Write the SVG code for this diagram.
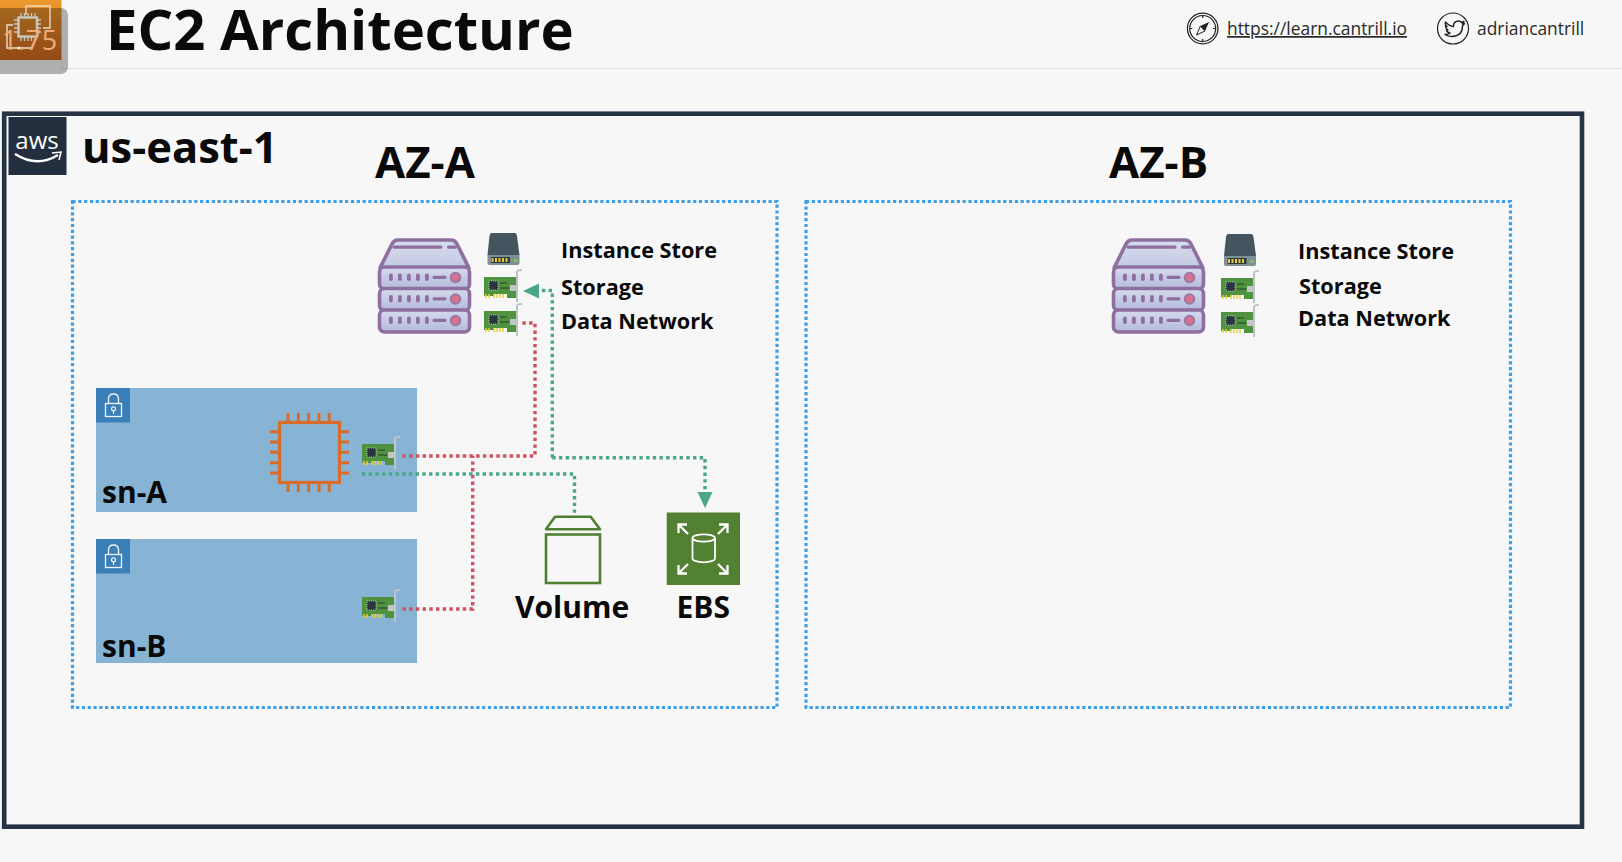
<svg xmlns="http://www.w3.org/2000/svg" xmlns:xlink="http://www.w3.org/1999/xlink" width="1622" height="862" viewBox="0 0 1622 862">
<style>
text{font-family:"Open Sans","Noto Sans","Liberation Sans",sans-serif;fill:#0a0a0a}
.b{font-weight:700}
.lab{font-weight:700;font-size:21.7px}
.big{font-weight:700;font-size:30px}
.az{font-weight:700;font-size:43.8px}
.top{font-size:17.4px;fill:#2a2a2a}
.zone{fill:none;stroke:#3d9fe8;stroke-width:3.2;stroke-dasharray:3.2 2.6}
.subnet{fill:#87b4d5}
.red{fill:none;stroke:#d0505f;stroke-width:3.4;stroke-dasharray:3.4 3.3}
.grn{fill:none;stroke:#4aa888;stroke-width:3.4;stroke-dasharray:3.4 3.3}
.ar{fill:#4aa888}
.thin{fill:none;stroke:#222;stroke-width:1.2}
</style>
<defs>
<linearGradient id="tg" x1="0" y1="0" x2="0" y2="1"><stop offset="0" stop-color="#d6daee"/><stop offset="1" stop-color="#b3bbda"/></linearGradient>
<linearGradient id="rg" x1="0" y1="0" x2="0" y2="1"><stop offset="0" stop-color="#d8dcee"/><stop offset="1" stop-color="#c3c9e2"/></linearGradient>
<linearGradient id="og" x1="0" y1="0" x2="0" y2="1"><stop offset="0" stop-color="#ec992e"/><stop offset="1" stop-color="#d0681f"/></linearGradient>
<g id="server">
<path d="M2 30 L14 6 Q16 2 20 2 H73 Q77 2 79 6 L91 30 Z" fill="url(#rg)" stroke="#8f6f9f" stroke-width="3.6" stroke-linejoin="round"/>
<rect x="14.5" y="7.5" width="50" height="3.2" rx="1.6" fill="#8f6f9f"/><rect x="69" y="7.5" width="10" height="3.2" rx="1.6" fill="#8f6f9f"/>
<g id="tier"><rect x="1.5" y="29" width="90" height="22" rx="5" fill="url(#tg)" stroke="#8f6f9f" stroke-width="3.6"/>
<g fill="#8f6f9f"><rect x="11" y="35.5" width="3.8" height="7.5" rx="1.8"/><rect x="20" y="35.5" width="3.8" height="7.5" rx="1.8"/><rect x="29" y="35.5" width="3.8" height="7.5" rx="1.8"/><rect x="38" y="35.5" width="3.8" height="7.5" rx="1.8"/><rect x="47" y="35.5" width="3.8" height="7.5" rx="1.8"/><rect x="54.5" y="37.7" width="14" height="3.2" rx="1.6"/></g>
<circle cx="77.5" cy="39.5" r="4.6" fill="#dd6f8f" stroke="#9b7aa5" stroke-width="2.4"/></g>
<use xlink:href="#tier" href="#tier" y="21.5"/><use xlink:href="#tier" href="#tier" y="43"/>
</g>
<g id="nic">
<path d="M0 0 H32 V21 H23 V17 H10 V19 H0 Z" fill="#4f9340"/>
<rect x="26" y="8" width="7" height="6" fill="#c3c8c6"/>
<rect x="5" y="4" width="9" height="9" fill="#2a3540" stroke="#dfe8d8" stroke-width="0.7" stroke-dasharray="1 1"/>
<path d="M16 6 H23 M16 11 H25" stroke="#2a3a2a" stroke-width="1.2"/>
<path d="M2 17 V21 M5 17 V21 M10 17 V21 M13 17 V21 M16 17 V21 M19 17 V21" stroke="#e6d13a" stroke-width="1.5"/>
<path d="M33 25 V-5 Q33 -7 38 -7" fill="none" stroke="#c0c4c4" stroke-width="2"/>
</g>
<g id="disk">
<path d="M4 0 H27 Q29 0 29.5 3 L32 22 H0 L2 3 Q2.5 0 4 0 Z" fill="#45555f"/>
<path d="M0 22 H32 V30 Q32 32 30 32 H2 Q0 32 0 30 Z" fill="#7e8f98"/>
<rect x="3.5" y="24" width="19" height="6" fill="#2f3a40"/>
<path d="M5 25 V29 M8.5 25 V29 M12 25 V29 M15.5 25 V29 M19 25 V29" stroke="#e6c93a" stroke-width="2"/>
<circle cx="28" cy="27.5" r="1.8" fill="#7ec850"/>
</g>
<g id="lock">
<rect width="34" height="34.5" fill="#3b7fb8"/>
<rect x="9.5" y="15.5" width="16" height="13" fill="none" stroke="#eef4fa" stroke-width="1.3"/>
<path d="M12.5 15.5 V11 Q12.5 6 17.5 6 Q22.5 6 22.5 11 V15.5" fill="none" stroke="#eef4fa" stroke-width="1.3"/>
<circle cx="17.5" cy="20.8" r="2" fill="none" stroke="#eef4fa" stroke-width="1.2"/><path d="M17.5 22.8 V26" stroke="#eef4fa" stroke-width="1.2"/>
</g>
</defs>
<rect width="1622" height="862" fill="#f7f7f7"/>

<g id="header">
<path d="M60 68.5 H1622" stroke="#e0e0e0" stroke-width="1.2"/>
<text id="title" x="106" y="50" class="b" font-size="56.2">EC2 Architecture</text>
<circle cx="1202.7" cy="28.5" r="15.3" class="thin"/><circle cx="1202.7" cy="28.5" r="13" class="thin"/>
<path d="M1202.7 15.5V18M1202.7 39V41.5M1189.7 28.5H1192.2M1213.2 28.5H1215.7" class="thin"/>
<path d="M1209 22 L1205 31 L1200.4 26 Z" fill="#222"/>
<path d="M1196.5 35 L1200.4 26 L1205 31 Z" fill="none" stroke="#222" stroke-width="1"/>
<text x="1227" y="35" class="top" text-decoration="underline">https://learn.cantrill.io</text>
<circle cx="1453" cy="28.5" r="15.5" class="thin"/>
<path d="M1445.5 22 Q1450 26.5 1453.5 26.5 Q1453.5 21 1458.5 21 Q1460.5 21 1461.5 22.5 L1464 21.5 L1462.5 24 L1464.5 23.5 L1462.5 26 Q1462.5 36 1452 36.5 Q1447.5 36.5 1445 34.5 Q1448.5 34.5 1450 33 Q1447 32.5 1446.5 30 L1448 30 Q1445.5 28.5 1445.5 26 L1447 26.5 Q1444.5 24.5 1445.5 22 Z" fill="none" stroke="#222" stroke-width="1.4" stroke-linejoin="round"/>
<text x="1477" y="35" class="top">adriancantrill</text>
</g>

<g id="badge">
<rect width="61.5" height="60" fill="url(#og)"/>
<rect x="-8" y="8" width="76" height="66" rx="7" fill="#000" opacity="0.29"/>
<path d="M26 15 V6 H50 V28 H43" fill="none" stroke="#ecd9bd" stroke-width="1.4"/>
<path d="M7 34 V25 H13 M7 34 V48 H32 L36 38" fill="none" stroke="#e8e0d0" stroke-width="1.4"/>
<rect x="18.5" y="17.5" width="18.5" height="19" fill="none" stroke="#c8c8c0" stroke-width="2.4"/>
<path d="M21 13V17M24.5 13V17M28 13V17M31.5 13V17M35 13V17M21 37V41M24.5 37V41M28 37V41M31.5 37V41M35 37V41M14 20H18M14 24H18M14 28H18M14 32H18M38 20H41M38 24H41M38 28H41M38 32H41" stroke="#c8c8c0" stroke-width="1.3"/>
<circle cx="19" cy="48" r="1.6" fill="#f4efe5"/>
<text x="2" y="50" font-size="27" letter-spacing="0.6" style="fill:#f0aa78;font-weight:400">1.75</text>
</g>

<g id="region">
<rect x="4.2" y="113.7" width="1577.8" height="713" fill="none" stroke="#263345" stroke-width="4.6"/>
</g>
<g id="aws-logo">
<rect x="8.5" y="117" width="58" height="58" fill="#232f3e"/>
<text x="37" y="149" text-anchor="middle" font-size="24" style="fill:#fff;font-weight:400">aws</text>
<path d="M15 154 Q37 168 58 155" fill="none" stroke="#fff" stroke-width="2.5"/>
<path d="M52 153 L61 152 L59 160" fill="none" stroke="#fff" stroke-width="1.5"/>
</g>
<text id="region-label" x="82" y="163" class="b" font-size="43.5">us-east-1</text>

<g id="az-a">
<rect class="zone" x="72.5" y="201.5" width="704.5" height="506"/>
<text x="375" y="178" class="az">AZ-A</text>
</g>
<g id="az-b">
<rect class="zone" x="806" y="201.5" width="704.5" height="506"/>
<text x="1109" y="178" class="az">AZ-B</text>
</g>

<g id="host-a">
<use xlink:href="#server" href="#server" x="378" y="238"/>
<use xlink:href="#disk" href="#disk" x="487.5" y="233"/>
<use xlink:href="#nic" href="#nic" x="484" y="277"/>
<use xlink:href="#nic" href="#nic" x="484" y="311"/>
<text class="lab" x="561" y="258">Instance Store</text>
<text class="lab" x="561" y="295">Storage</text>
<text class="lab" x="561" y="329">Data Network</text>
</g>
<g id="host-b">
<use xlink:href="#server" href="#server" x="1112" y="238"/>
<use xlink:href="#disk" href="#disk" x="1224" y="234"/>
<use xlink:href="#nic" href="#nic" x="1221" y="278"/>
<use xlink:href="#nic" href="#nic" x="1221" y="312"/>
<text class="lab" x="1298" y="259">Instance Store</text>
<text class="lab" x="1299" y="294">Storage</text>
<text class="lab" x="1298" y="326">Data Network</text>
</g>

<g id="sn-a">
<rect class="subnet" x="96" y="388" width="321" height="124"/>
<use xlink:href="#lock" href="#lock" x="96" y="388"/>
<text class="big" x="102" y="503">sn-A</text>
<use xlink:href="#nic" href="#nic" x="362" y="444"/>
</g>
<g id="sn-b">
<rect class="subnet" x="96" y="539" width="321" height="124"/>
<use xlink:href="#lock" href="#lock" x="96" y="539"/>
<text class="big" x="102" y="657">sn-B</text>
<use xlink:href="#nic" href="#nic" x="362" y="597"/>
</g>
<g id="ec2">
<rect x="279.5" y="422.5" width="60" height="60" fill="none" stroke="#d86c2b" stroke-width="3.2"/>
<path d="M270 431.7H279M270 442H279M270 452.3H279M270 462.7H279M270 473H279M340 431.7H349M340 442H349M340 452.3H349M340 462.7H349M340 473H349M288 413V422M298.3 413V422M308.7 413V422M319 413V422M329.3 413V422M288 483V492M298.3 483V492M308.7 483V492M319 483V492M329.3 483V492" fill="none" stroke="#d86c2b" stroke-width="3"/>
</g>
<g id="volume">
<path d="M555 516.7 H590.7 L600 529.3 H546 Z" fill="none" stroke="#4f8032" stroke-width="2.6" stroke-linejoin="round"/>
<rect x="546" y="534.5" width="54" height="48.5" fill="none" stroke="#4f8032" stroke-width="2.6"/>
<text class="big" x="515" y="617.5">Volume</text>
</g>
<g id="ebs">
<rect x="666.7" y="512.5" width="73.3" height="72.5" fill="#538132"/>
<g fill="none" stroke="#fff" stroke-width="1.8">
<path d="M692.5 538 V558.5 A11.2 3.8 0 0 0 715 558.5 V538"/><ellipse cx="703.7" cy="538" rx="11.2" ry="3.6"/>
</g>
<g fill="none" stroke="#fff" stroke-width="2.3">
<path d="M688 534 L679 525 M678.5 533 V524.5 H687 M718 534 L727 525 M719 524.5 H727.5 V533 M688 564 L679 573 M678.5 565 V573.5 H687 M718 564 L727 573 M719 573.5 H727.5 V565"/>
</g>
<text class="big" x="676.5" y="618">EBS</text>
</g>

<g id="connectors">
<path class="red" d="M402.5 456 H535 V323 H520"/>
<path class="red" d="M402.5 609 H472.7 V456"/>
<path class="grn" d="M362 474 H574.5 V513"/>
<path class="grn" d="M552.3 457.7 V290.5 H538"/>
<path class="grn" d="M552.3 457.7 H705 V493"/>
<path class="ar" d="M523 291 L539 283.5 V298.5 Z"/>
<path class="ar" d="M705 508 L697.5 492 H712.5 Z"/>
</g>
</svg>
